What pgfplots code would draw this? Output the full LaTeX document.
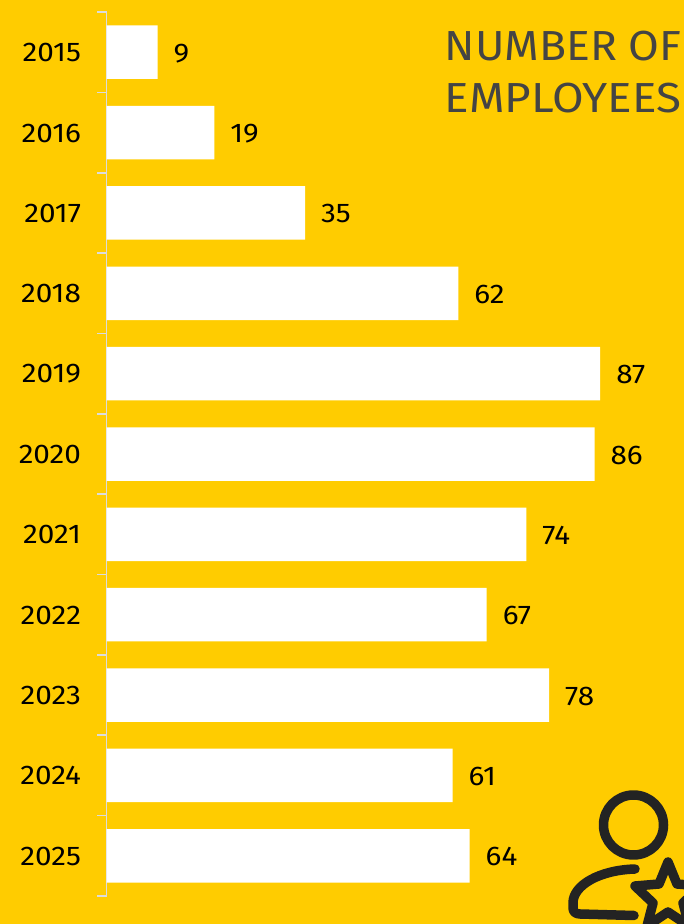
\documentclass[border=0pt]{standalone}
\usepackage{pgfplots}
\pgfplotsset{compat=1.18}
\usepackage{fontspec}
\setmainfont{Fira Sans}[Numbers=Proportional, FakeStretch=1.1]
\newfontfamily\titlefontA{Fira Sans}[FakeStretch=1.06]
\newfontfamily\titlefontB{Fira Sans}[FakeStretch=1.09]
\definecolor{pagebg}{HTML}{FFCC00}
\definecolor{inkdark}{HTML}{232323}
\definecolor{titleink}{HTML}{444444}
\definecolor{axisgrey}{HTML}{DCDCDC}
\begin{document}
\begin{tikzpicture}
  % background panel sets the page size
  \fill[pagebg] (0pt,0pt) rectangle (684pt,924pt);
  \begin{axis}[
    at={(106.5pt,28pt)}, anchor=south west,
    scale only axis, width=577.5pt, height=884pt,
    xmin=0, xmax=101.76,
    ymin=2014.5, ymax=2025.5, y dir=reverse,
    axis x line=none, axis y line=left,
    axis line style={draw=axisgrey, line width=1.8pt, -},
    ytick={2015,...,2025},
    minor ytick={2014.5,2015.5,...,2025.5},
    tick align=outside,
    major tick length=0pt, minor tick length=9pt,
    every minor tick/.append style={draw=axisgrey, line width=1.6pt},
    /pgf/number format/1000 sep={},
    /pgf/number format/assume math mode=true,
    yticklabel style={font=\fontsize{27}{30}\selectfont, text=black, anchor=east, xshift=-22pt, yshift=-0.5pt},
    xbar, bar width=53.5pt,
    nodes near coords,
    every node near coord/.append style={font=\fontsize{27}{30}\selectfont, text=black, anchor=west, xshift=12.5pt, yshift=-1pt},
    clip=false,
  ]
    \addplot[fill=white, draw=none] coordinates {
      (9,2015) (19,2016) (35,2017) (62,2018) (87,2019) (86,2020)
      (74,2021) (67,2022) (78,2023) (61,2024) (64,2025)};
  \end{axis}
  % title
  \node[anchor=base west, inner sep=0pt, text=titleink, font=\titlefontA\fontsize{42}{48}\selectfont] at (444.5pt,863pt) {NUMBER OF};
  \node[anchor=base west, inner sep=0pt, text=titleink, font=\titlefontB\fontsize{42}{48}\selectfont] at (444.5pt,811pt) {EMPLOYEES};
  % person-with-star emblem, cut off at the page edge
  \begin{scope}
    \clip (0pt,0pt) rectangle (684pt,924pt);
    \begin{scope}[x=1pt, y=-1pt, yshift=924pt, draw=inkdark, line width=9.5pt, line cap=round, line join=round]
      \draw (633.5,825) circle[radius=30pt];
      \draw (635,869) .. controls (600,870) and (573,885) .. (573,903)
            -- (573,908) .. controls (573,912) and (576,914) .. (580,914) -- (634,915.5);
      \draw (668,862) -- (677,884) -- (701,886) -- (683,903) -- (689,926)
            -- (668,912) -- (647,926) -- (653,903) -- (635,886) -- (659,884) -- cycle;
    \end{scope}
  \end{scope}
\end{tikzpicture}
\end{document}
